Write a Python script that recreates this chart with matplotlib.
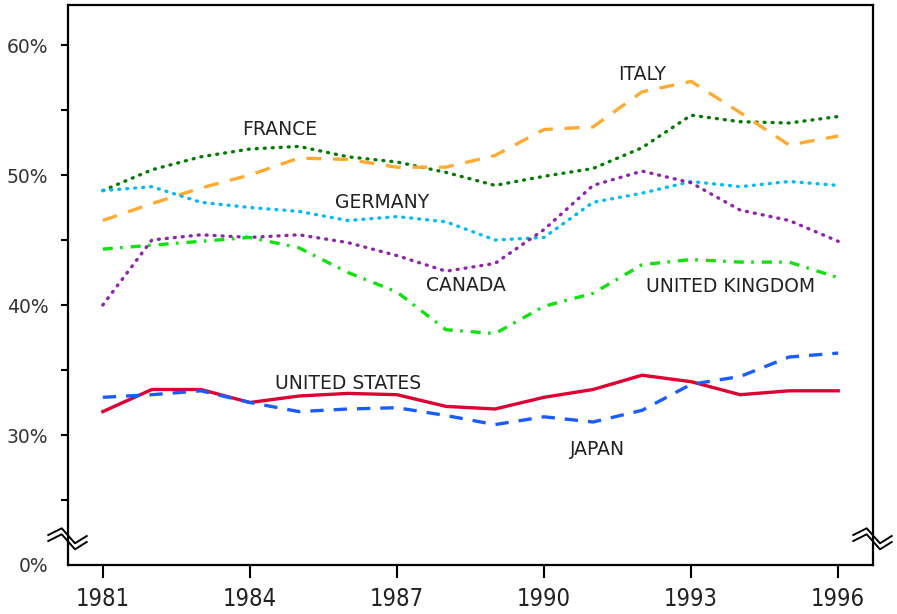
import numpy as np
import matplotlib
matplotlib.use("Agg")
import matplotlib.pyplot as plt
from matplotlib import font_manager

years = list(range(1981, 1997))

france  = [48.8, 50.4, 51.4, 52.0, 52.2, 51.4, 51.0, 50.2, 49.2, 49.9, 50.5, 52.1, 54.6, 54.1, 54.0, 54.5]
italy   = [46.5, 47.8, 49.0, 50.0, 51.3, 51.2, 50.6, 50.6, 51.5, 53.5, 53.7, 56.4, 57.2, 54.8, 52.3, 53.0]
germany = [48.8, 49.1, 47.9, 47.5, 47.2, 46.5, 46.8, 46.4, 45.0, 45.2, 47.9, 48.6, 49.5, 49.1, 49.5, 49.2]
canada  = [40.0, 45.0, 45.4, 45.2, 45.4, 44.8, 43.8, 42.6, 43.2, 45.8, 49.2, 50.3, 49.4, 47.3, 46.5, 44.9]
uk      = [44.3, 44.6, 44.9, 45.2, 44.4, 42.5, 41.0, 38.1, 37.8, 39.9, 40.9, 43.1, 43.5, 43.3, 43.3, 42.1]
us      = [31.8, 33.5, 33.5, 32.5, 33.0, 33.2, 33.1, 32.2, 32.0, 32.9, 33.5, 34.6, 34.1, 33.1, 33.4, 33.4]
japan   = [32.9, 33.1, 33.4, 32.5, 31.8, 32.0, 32.1, 31.5, 30.8, 31.4, 31.0, 31.9, 33.9, 34.5, 36.0, 36.3]

xticks = [1981, 1984, 1987, 1990, 1993, 1996]
yticks = [20, 25, 30, 35, 40, 45, 50, 55, 60]
ylabels = ['0%', '', '30%', '', '40%', '', '50%', '', '60%']

series = [
    ('FRANCE', france, '#007a00', (0, (0.3, 2.1)), 'round', 1984.6, 53.5),
    ('ITALY', italy, '#ffaa33', (0, (4.5, 3.5)), 'butt', 1992.0, 57.7),
    ('GERMANY', germany, '#00bbf2', (0, (0.3, 2.1)), 'round', 1986.7, 47.9),
    ('CANADA', canada, '#8e24aa', (0, (0.3, 2.1)), 'round', 1988.4, 41.5),
    ('UNITED KINGDOM', uk, '#11e011', (0, (3, 2.2, 0.8, 2.4)), 'butt', 1993.8, 41.4),
    ('UNITED STATES', us, '#dd0033', '-', 'butt', 1986.0, 34.0),
    ('JAPAN', japan, '#1a5cff', (0, (4, 3)), 'butt', 1991.1, 28.9),
]

fig = plt.figure(figsize=(8.97, 6.14), dpi=100)
ax = fig.add_axes([68/897, 49/614, 805/897, 560/614])

for name, vals, col, ls, cap, tx, ty in series:
    ax.plot(years, vals, color=col, lw=2.4, linestyle=ls,
            dash_capstyle=cap, solid_joinstyle='round')
    ax.text(tx, ty, name, ha='center', va='center', fontsize=13.5,
            color='#222222')

ax.set_xlim(1980.29, 1996.71)
ax.set_ylim(20, 20 + 560/13)

# condensed face for the year labels
narrow = font_manager.FontProperties(family='DejaVu Sans', stretch='condensed', size=17)
ax.set_xticks(xticks)
ax.set_xticklabels([str(y) for y in xticks], fontproperties=narrow, color='#222222')
ax.set_yticks(yticks)
ax.set_yticklabels(ylabels, fontsize=13.5, color='#333333')
ax.tick_params(axis='x', direction='out', length=9.5, width=1.5, pad=6)
ax.tick_params(axis='y', direction='out', length=5, width=1.5, pad=9)
ax.yaxis.get_major_ticks()[0].tick1line.set_visible(False)

for sp in ax.spines.values():
    sp.set_linewidth(1.6)

# axis break marks on both sides
W, H = 805.0, 560.0
zz_x = np.array([-19.7, -6.3, 7, 18.7])
zz_y = np.array([0, 6.7, -8.3, -1])
yc = 30 / H
for xc in (0, 1):
    for off in (0, -6):
        ax.plot(xc + zz_x / W, yc + (zz_y + off) / H, color='black', lw=1.4,
                transform=ax.transAxes, clip_on=False, zorder=5)

fig.savefig('out.png', dpi=100)
